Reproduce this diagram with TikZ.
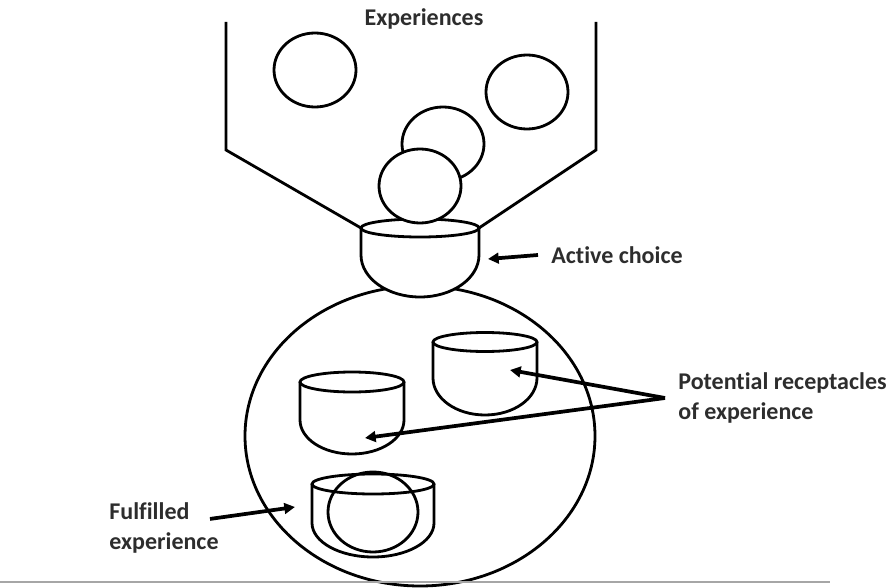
\documentclass[tikz,border=0pt]{standalone}
\usepackage{fontspec}
\setmainfont[Ligatures=NoCommon]{Carlito}
\usepackage{xcolor}
\usepackage{tikz}
\usetikzlibrary{arrows.meta}
\definecolor{labelgray}{RGB}{45,45,45}

% bowl: rim centre (#1,#2), half width #3, rim depth #4, wall #5, bottom depth #6
\newcommand{\bowl}[6]{%
  \draw[fill=white] (#1-#3,#2) -- ++(0,#5)
    arc[start angle=180, end angle=0, x radius=#3, y radius=#6]
    -- (#1+#3,#2);
  \draw (#1,#2) ellipse [x radius=#3, y radius=#4];
}

\begin{document}
\begin{tikzpicture}[x=0.75pt, y=-0.75pt, line width=2.1pt,
  lbl/.style={font=\fontsize{18pt}{22.5pt}\selectfont\bfseries,
    text=labelgray, inner sep=0pt, align=left},
  pointer/.style={line width=2.8pt, -{Triangle[length=8pt,width=8pt]}}]
\useasboundingbox (0,0) rectangle (896,588);

% Mind
\draw (420,436) ellipse [x radius=175, y radius=150];

% Choice bowl at the neck
\bowl{420}{228}{59}{9}{27}{42}

% Hopper
\draw (226,22) -- (226,150) -- (361,228);
\draw (596,22) -- (596,150) -- (479,228);

% Experiences, back to front
\foreach \cx/\cy in {315/70, 527/92, 443/144, 420/186}{
  \draw[fill=white] (\cx,\cy) ellipse [x radius=41, y radius=37];
}

% Receptacles
\bowl{485}{342}{52}{9.5}{36}{37}
\bowl{352}{382}{52}{10}{38}{34}
\bowl{373}{484}{61}{10}{39}{34}
\draw (373,512) ellipse [x radius=45, y radius=40];

% Labels
\node[lbl] (exp) at (424,19) {Experiences};
\node[lbl, anchor=west] (choice) at (550,255) {Active choice};
\node[lbl, anchor=west] (recept) at (677,398)
  {Potential receptacles\\of experience};
\node[lbl, anchor=west] (fulfil) at (108,528) {Fulfilled\\experience};

% Arrows
\coordinate (choice tip) at (488,259);
\coordinate (upper tip) at (510,370);
\coordinate (lower tip) at (365,438);
\coordinate (fulfil tip) at (295,507);
\coordinate (fork) at ([xshift=-9pt]recept.west);

\draw[pointer] ([xshift=-9pt]choice.west) -- (choice tip);
\draw[pointer] (fork) -- (upper tip);
\draw[pointer] (fork) -- (lower tip);
\draw[pointer] ([shift={(-7.5pt,6.8pt)}]fulfil.east) -- (fulfil tip);

% Base rule
\draw[gray!70, line width=1.8pt] (0,582) -- (830,582);
\end{tikzpicture}
\end{document}
